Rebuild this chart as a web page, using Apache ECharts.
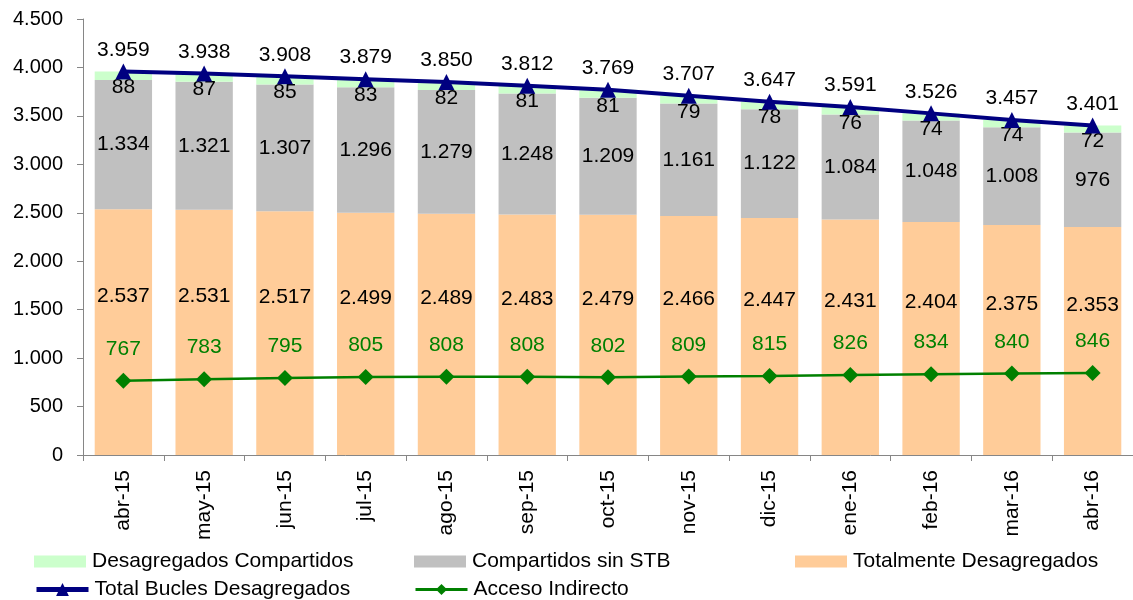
<!DOCTYPE html>
<html>
<head>
<meta charset="utf-8">
<script src="https://cdn.jsdelivr.net/npm/echarts@6/dist/echarts.min.js"></script>
<style>
  html, body { margin: 0; padding: 0; background: #fff; }
  #chart { width: 1133px; height: 600px; }
</style>
</head>
<body>
<div id="chart"></div>
<script>
// datos del gráfico
var months = ['abr-15', 'may-15', 'jun-15', 'jul-15', 'ago-15', 'sep-15', 'oct-15',
              'nov-15', 'dic-15', 'ene-16', 'feb-16', 'mar-16', 'abr-16'];
var desagCompartidos = [88, 87, 85, 83, 82, 81, 81, 79, 78, 76, 74, 74, 72];
var compartidosSinSTB = [1334, 1321, 1307, 1296, 1279, 1248, 1209, 1161, 1122, 1084, 1048, 1008, 976];
var totalmenteDesag = [2537, 2531, 2517, 2499, 2489, 2483, 2479, 2466, 2447, 2431, 2404, 2375, 2353];
var totalBucles = [3959, 3938, 3908, 3879, 3850, 3812, 3769, 3707, 3647, 3591, 3526, 3457, 3401];
var accesoIndirecto = [767, 783, 795, 805, 808, 808, 802, 809, 815, 826, 834, 840, 846];

var FONT = '"Liberation Sans", Arial, sans-serif';

function miles(v) {
  var s = String(Math.round(v));
  return s.replace(/\B(?=(\d{3})+(?!\d))/g, '.');
}

// una leyenda por elemento para colocarlas como en el original
function leyenda(name, left, top, extra) {
  var l = {
    left: left, top: top, padding: 0,
    itemWidth: 52, itemHeight: 12, itemGap: 0,
    textStyle: { fontFamily: FONT, fontSize: 21, color: '#000', padding: [0, 0, 0, 1] },
    data: [name]
  };
  if (extra) { for (var k in extra) l[k] = extra[k]; }
  return l;
}

function lbl(p) { return miles(p.value); }

var chart = echarts.init(document.getElementById('chart'));
chart.setOption({
  animation: false,
  textStyle: { fontFamily: FONT },
  grid: { left: 83, right: 0, top: 19, bottom: 145 },
  legend: [
    leyenda('Desagregados Compartidos', 34, 551, { icon: 'rect' }),
    leyenda('Compartidos sin STB', 414, 551, { icon: 'rect' }),
    leyenda('Totalmente Desagregados', 795, 551, { icon: 'rect' }),
    leyenda('Total Bucles Desagregados', 34, 579, { itemHeight: 16, lineStyle: { width: 5 } }),
    leyenda('Acceso Indirecto', 414, 579, { itemHeight: 14, lineStyle: { width: 3 } })
  ],
  xAxis: {
    type: 'category',
    data: months,
    axisLine: { lineStyle: { color: '#868686', width: 1 } },
    axisTick: { show: true, length: 6, lineStyle: { color: '#868686' } },
    axisLabel: { rotate: 90, margin: 15, fontSize: 21, color: '#000', fontFamily: FONT }
  },
  yAxis: {
    type: 'value',
    min: 0, max: 4500, interval: 500,
    splitLine: { show: false },
    axisLine: { show: true, lineStyle: { color: '#868686', width: 1 } },
    axisTick: { show: true, length: 6, lineStyle: { color: '#868686' } },
    axisLabel: { fontSize: 20, color: '#000', margin: 20, fontFamily: FONT, formatter: miles }
  },
  series: [
    {
      name: 'Totalmente Desagregados', type: 'bar', stack: 'b',
      data: totalmenteDesag, barWidth: '71%',
      itemStyle: { color: '#FFCC99' },
      label: { show: true, position: 'inside', offset: [0, -36], fontSize: 21, color: '#000',
               fontFamily: FONT, formatter: lbl }
    },
    {
      name: 'Compartidos sin STB', type: 'bar', stack: 'b',
      data: compartidosSinSTB,
      itemStyle: { color: '#C0C0C0' },
      label: { show: true, position: 'inside', fontSize: 21, color: '#000',
               fontFamily: FONT, formatter: lbl }
    },
    {
      name: 'Desagregados Compartidos', type: 'bar', stack: 'b',
      data: desagCompartidos,
      itemStyle: { color: '#CCFFCC' },
      label: { show: true, position: 'inside', offset: [0, 12], fontSize: 21, color: '#000',
               fontFamily: FONT, formatter: lbl }
    },
    {
      name: 'Total Bucles Desagregados', type: 'line',
      data: totalBucles,
      symbol: 'triangle', symbolSize: 16,
      lineStyle: { color: '#000080', width: 4 },
      itemStyle: { color: '#000080' },
      label: { show: true, position: 'top', distance: 3, fontSize: 21, color: '#000',
               fontFamily: FONT, formatter: lbl },
      z: 5
    },
    {
      name: 'Acceso Indirecto', type: 'line',
      data: accesoIndirecto,
      symbol: 'diamond', symbolSize: 16,
      lineStyle: { color: '#008000', width: 2.5 },
      itemStyle: { color: '#008000' },
      label: { show: true, position: 'top', distance: 13, fontSize: 21, color: '#008000',
               fontFamily: FONT, formatter: lbl },
      z: 5
    }
  ]
});
</script>
</body>
</html>
